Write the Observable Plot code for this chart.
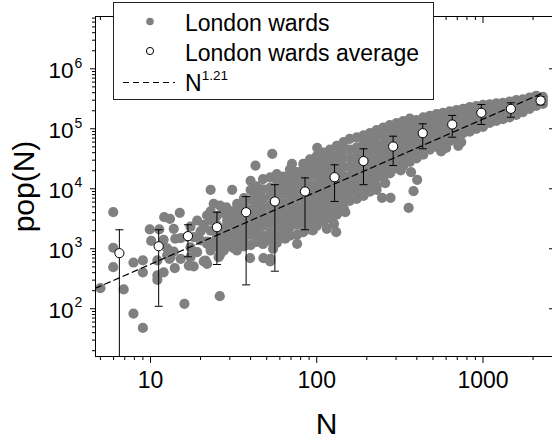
<!DOCTYPE html>
<html><head><meta charset="utf-8">
<script src="https://cdn.jsdelivr.net/npm/d3@7"></script>
<script src="https://cdn.jsdelivr.net/npm/@observablehq/plot@0.6"></script>
<style>
body{margin:0;background:#fff;}
#wrap{position:relative;width:552px;height:443px;font-family:"Liberation Sans",Arial,sans-serif;}
#legend{position:absolute;left:0;top:0;pointer-events:none;}
</style></head><body><div id="wrap"></div>
<script>
// ---- axes ----
const xDomain = [4.67, 2618];
const yDomain = [16, 7.45e6];
const xMajor = [10, 100, 1000];
const xMajorLabels = ["10", "100", "1000"];
const xMinor = [5,6,7,8,9,20,30,40,50,60,70,80,90,200,300,400,500,600,700,800,900,2000];
const yMajor = [1e2, 1e3, 1e4, 1e5, 1e6];
const yExp = ["2", "3", "4", "5", "6"];
const yMinor = [20,30,40,50,60,70,80,90,200,300,400,500,600,700,800,900,
  2e3,3e3,4e3,5e3,6e3,7e3,8e3,9e3,2e4,3e4,4e4,5e4,6e4,7e4,8e4,9e4,
  2e5,3e5,4e5,5e5,6e5,7e5,8e5,9e5,2e6,3e6,4e6,5e6,6e6,7e6];

// ---- London wards (N, pop) : dense band, by column of N ----
const wardBand = [
  [40, [1150,1700,2300,3300,4500,6500,9500,13500]],
  [43.5, [1300,2000,2800,3900,5600,7800,11000]],
  [47.5, [1200,1650,2400,3400,4800,6800,9800,14500]],
  [52.5, [1350,1900,2700,3700,5300,7600,10500,15500]],
  [57.5, [1250,1750,2500,3500,4900,7000,10000,14000,17500]],
  [63, [1500,2100,2900,4100,5700,8200,11500,16000]],
  [69, [1650,2300,3200,4500,6300,8900,12500,17500,21000]],
  [76, [1700,2500,3500,4900,7000,9800,13500,19000]],
  [83, [1900,2700,3800,5300,7500,10500,15000,21000,26000]],
  [91, [2100,3000,4200,5900,8300,11500,16500,23000,31000]],
  [100, [2400,3300,4600,6500,9000,12500,18000,25000,35000]],
  [110, [2800,3900,5400,7500,10500,14500,20000,28000,40000]],
  [120, [3200,4400,6100,8500,12000,16500,23000,32000,45000]],
  [132, [3700,5100,7000,9700,13500,19000,26000,36000,52000]],
  [145, [4800,6500,8800,12000,16500,23000,32000,44000,60000]],
  [158, [6300,8800,12000,16500,23000,32000,45000,68000]],
  [174, [6800,9500,13000,18000,25000,35000,49000,72000]],
  [191, [7600,10500,14500,20000,28000,39000,55000,78000]],
  [209, [9000,12500,17000,23500,32500,45000,62000,85000]],
  [229, [11000,15000,21000,29000,40000,56000,78000,95000]],
  [251, [16000,22000,30000,42000,58000,80000,105000]],
  [275, [18000,25000,34000,47000,65000,90000,115000]],
  [302, [22000,30000,41000,56000,77000,105000,125000]],
  [331, [24000,33000,45000,62000,85000,115000,135000]],
  [363, [28000,38000,52000,70000,95000,125000,148000]],
  [398, [32000,44000,60000,80000,108000,140000]],
  [437, [37000,50000,68000,92000,122000,155000]],
  [479, [45000,60000,80000,105000,135000,165000]],
  [525, [50000,66000,88000,115000,145000,175000]],
  [575, [58000,76000,98000,125000,158000,185000]],
  [631, [62000,80000,102000,130000,165000,195000]],
  [692, [70000,90000,112000,140000,175000,205000]],
  [759, [85000,105000,130000,160000,195000,215000]],
  [832, [90000,112000,138000,168000,205000,230000]],
  [912, [100000,122000,148000,180000,215000,240000]],
  [1000, [108000,130000,158000,190000,225000,250000]],
  [1096, [125000,150000,180000,215000,255000]],
  [1202, [135000,160000,190000,228000,265000]],
  [1318, [145000,172000,205000,245000,270000]],
  [1445, [155000,185000,220000,260000,285000]],
  [1585, [170000,200000,235000,275000,300000]],
  [1738, [190000,225000,265000,310000]],
  [1905, [215000,250000,290000,330000]],
  [2089, [240000,275000,320000,355000]],
  [2291, [260000,300000,340000]]
];
// scattered wards (N, pop)
const wardScatter = [
  [5.0,220],[6.9,210],[7.9,83],[9.0,48],[5.97,4070],[5.97,1040],[5.97,494],
  [7.9,590],[9.0,640],[9.0,405],[9.9,2100],[11.3,2100],[10.1,1350],[11.0,640],
  [13.0,680],[14.0,475],[12.0,405],[11.0,359],[11.0,304],[16.0,121],[17.0,525],
  [18.2,507],[26.1,162],[21.4,638],[21.9,562],[25.7,725],[27.6,935],[33.1,935],[19.1,880],
  [23,9620],[31,9620],[15,3980],[12.1,3360],[13.1,3160],[24.0,5620],[26.2,5250],[28.6,4900],
  [13.8,2150],[14.1,1470],[12.6,780],[13.2,725],[12.0,1410],[12.6,1020],[13.8,900],
  [19.1,2960],[21.9,3590],[20.9,2290],[18.2,1560],[20.0,1380],[17.4,1060],[21.9,1210],
  [23.0,935],[26.9,935],[30.3,1380],[33.1,1060],[31.6,2290],[33.1,3360],[28.9,2960],
  [25.2,1780],[17.4,725],[15.2,680],[17.4,2340],[20,1950],[20.9,2510],[15.2,1500],[16.6,1600],
  [20.9,615],[21.9,1320],[26.2,795],[31.6,1020],[39.7,697],[47.8,697],[52.5,615],
  [23,1200],[23,2000],[23,3000],[23,4200],[25,1100],[25,1500],[25,2500],[25,3500],
  [27,1250],[27,1800],[27,2200],[27,4000],[29,1100],[29,1600],[29,2500],[29,3500],
  [31,1200],[31,1900],[31,2700],[31,4200],[34,1300],[34,1700],[34,2400],[34,3100],[34,4100],[34,5500],
  [36.5,1100],[36.5,1500],[36.5,2000],[36.5,2900],[36.5,3700],[36.5,5000],[36.5,7000],
  [64.6,1470],[76.2,1210],[54.6,1000],[55,1210],[43.7,1410],[47.9,1560],[57.7,1780],
  [36.4,1210],[94.8,2020],[131,1890],[52.7,680],
  [54,38300],[100.7,48200],[42.8,24400],[71,26100],[33.2,5620],[127,2610],[148.5,4070],[115,2150],
  [220,14700],[258,12400],[229,9620],[247,7080],[278,7080],[357,4820],[382,9120],
  [402,14100],[369,18900],[253,20200],[278,18900],[320,20200],
  [710,52000],[740,60000],[560,42000],[600,48000]
];
const wards = [
  ...wardBand.flatMap(([n, pops]) => pops.map(p => ({N: n, pop: p}))),
  ...wardScatter.map(([n, p]) => ({N: n, pop: p}))
];

// ---- London wards average with error bars ----
const avgN   = [6.5, 11.2, 16.8, 25.1, 37.6, 56, 85, 128, 191, 288, 434, 653, 977, 1470, 2220];
const avgPop = [845, 1100, 1625, 2290, 4070, 6150, 9020, 15600, 29000, 50700, 84500, 118000, 185000, 215000, 296000];
const avgLo  = [10, 110, 735, 547, 250, 423, 2075, 6150, 11700, 24400, 46400, 72400, 118000, 156000, 251000];
const avgHi  = [2075, 2075, 2510, 4070, 7400, 11700, 15200, 25100, 46400, 75300, 121000, 167000, 254000, 271000, 345000];
const avg = avgN.map((n, i) => ({N: n, pop: avgPop[i], lo: avgLo[i], hi: avgHi[i]}));

// ---- fit N^1.21 ----
const fitExp = 1.21, fitCoef = 34, fitRange = [4.67, 2270];
const fit = fitRange.map(n => ({N: n, pop: fitCoef * Math.pow(n, fitExp)}));

const capSymbol = {draw(ctx) { ctx.moveTo(-4, 0); ctx.lineTo(4, 0); }};
const noLabel = () => "";
const FONT = "Liberation Sans, Arial, sans-serif";

const plot = Plot.plot({
  width: 552, height: 443,
  marginLeft: 95, marginRight: 0, marginTop: 16, marginBottom: 87,
  x: {type: "log", domain: xDomain},
  y: {type: "log", domain: yDomain},
  style: {fontFamily: FONT, background: "white", color: "black"},
  marks: [
    Plot.dot(wards, {x: "N", y: "pop", r: 5.1, fill: "#808080"}),
    Plot.line(fit, {x: "N", y: "pop", stroke: "black", strokeWidth: 1.2, strokeDasharray: "6,4"}),
    Plot.ruleX(avg, {x: "N", y1: "lo", y2: "hi", stroke: "black", strokeWidth: 1, clip: true}),
    Plot.dot(avg, {x: "N", y: "hi", symbol: capSymbol, stroke: "black", strokeWidth: 1, clip: true}),
    Plot.dot(avg, {x: "N", y: "lo", symbol: capSymbol, stroke: "black", strokeWidth: 1, clip: true}),
    Plot.dot(avg, {x: "N", y: "pop", r: 4.6, fill: "white", stroke: "black", strokeWidth: 1}),
    // frame
    Plot.ruleX([xDomain[0]], {stroke: "black"}),
    Plot.ruleY([yDomain[0], yDomain[1]], {stroke: "black"}),
    // ticks
    Plot.axisX({anchor: "bottom", ticks: xMajor, tickSize: 7, tickFormat: noLabel, label: null}),
    Plot.axisX({anchor: "bottom", ticks: xMinor, tickSize: 4, tickFormat: noLabel, label: null}),
    Plot.axisX({anchor: "top", ticks: xMajor, tickSize: -6, tickFormat: noLabel, label: null}),
    Plot.axisX({anchor: "top", ticks: xMinor, tickSize: -3, tickFormat: noLabel, label: null}),
    Plot.axisY({anchor: "left", ticks: yMajor, tickSize: 5, tickFormat: noLabel, label: null}),
    Plot.axisY({anchor: "left", ticks: yMinor, tickSize: 3, tickFormat: noLabel, label: null}),
    Plot.axisY({anchor: "right", ticks: yMajor, tickSize: -4, tickFormat: noLabel, label: null}),
    // tick labels
    Plot.text(xMajor, {x: d => d, text: (d, i) => xMajorLabels[i], frameAnchor: "bottom", dy: 31.7, lineAnchor: "bottom", fontSize: 23, textAnchor: "middle", fill: "black"}),
    Plot.text(yMajor, {y: d => d, frameAnchor: "left", dx: -22, dy: 9, lineAnchor: "bottom", textAnchor: "end", fontSize: 22.5, text: () => "10", fill: "black"}),
    Plot.text(yMajor, {y: d => d, frameAnchor: "left", dx: -21, dy: -1.3, lineAnchor: "bottom", textAnchor: "start", fontSize: 14, text: (d, i) => yExp[i], fill: "black"}),
    // axis titles
    Plot.text(["N"], {frameAnchor: "bottom", dy: 77, dx: 2.5, lineAnchor: "bottom", fontSize: 30, fill: "black"}),
    Plot.text(["pop(N)"], {frameAnchor: "left", dx: -62, rotate: -90, lineAnchor: "bottom", textAnchor: "middle", fontSize: 30, fill: "black"})
  ]
});
const wrap = document.getElementById("wrap");
wrap.appendChild(plot);

// ---- legend ----
const legendLabels = ["London wards", "London wards average", "N"];
const legendExp = "1.21";
const svgNS = "http://www.w3.org/2000/svg";
const lg = document.createElementNS(svgNS, "svg");
lg.setAttribute("id", "legend");
lg.setAttribute("width", 552); lg.setAttribute("height", 443);
lg.setAttribute("font-family", FONT);
lg.innerHTML = `
  <rect x="113.5" y="2.5" width="320" height="97" fill="white" stroke="#222" stroke-width="1"/>
  <circle cx="150" cy="21.5" r="3.8" fill="#808080"/>
  <text x="185" y="30.5" font-size="23">${legendLabels[0]}</text>
  <circle cx="150" cy="51" r="3.6" fill="white" stroke="black"/>
  <text x="185" y="60.5" font-size="23">${legendLabels[1]}</text>
  <line x1="123" x2="175" y1="82.5" y2="82.5" stroke="black" stroke-width="1.2" stroke-dasharray="6,4"/>
  <text x="185" y="91" font-size="23">${legendLabels[2]}<tspan dx="0" dy="-11" font-size="13.5">${legendExp}</tspan></text>
`;
wrap.appendChild(lg);
</script></body></html>
